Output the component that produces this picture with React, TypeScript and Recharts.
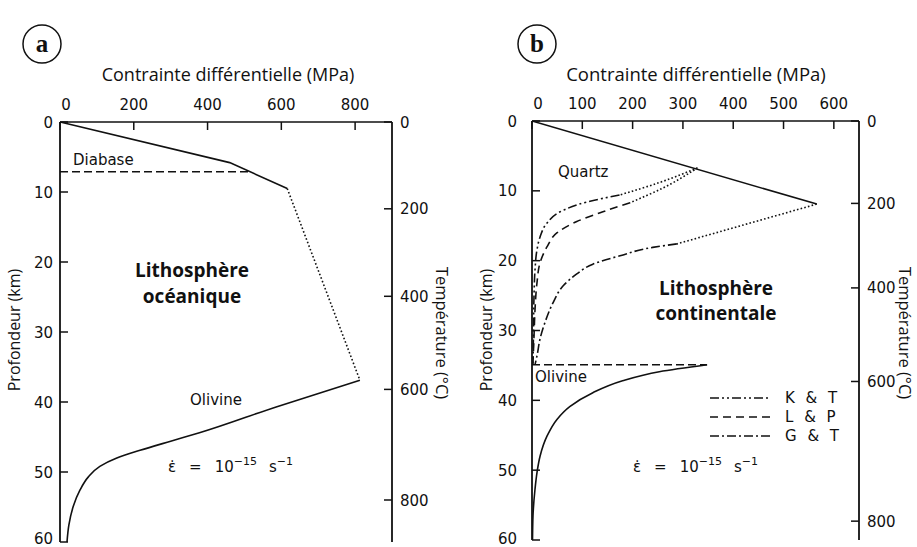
import { ComposedChart, Line, XAxis, YAxis } from "recharts";

// depth axis (km) shared by both panels
const depthTicks = [0, 10, 20, 30, 40, 50, 60];

// panel a — oceanic lithosphere
const stressTicksA = [0, 200, 400, 600, 800];
const tempLabelsA = [0, 200, 400, 600, 800];
const tempDepthsA = [0, 12.4, 24.9, 38.2, 54.0];
const brittleA = [
  { x: 0, y: 0 },
  { x: 460, y: 5.8 },
  { x: 616, y: 9.5 },
];
const diabaseA = [
  { x: 0, y: 7.1 },
  { x: 510, y: 7.1 },
];
const transitionA = [
  { x: 616, y: 9.5 },
  { x: 813, y: 36.9 },
];
const olivineA = [
  { x: 813, y: 36.9 },
  { x: 586, y: 40.7 },
  { x: 378, y: 44.4 },
  { x: 300, y: 45.6 },
  { x: 217, y: 46.9 },
  { x: 154, y: 48.0 },
  { x: 108, y: 49.2 },
  { x: 77, y: 50.7 },
  { x: 54, y: 52.6 },
  { x: 36, y: 54.9 },
  { x: 24, y: 57.6 },
  { x: 19, y: 60 },
];

// panel b — continental lithosphere
const stressTicksB = [0, 100, 200, 300, 400, 500, 600];
const tempLabelsB = [0, 200, 400, 600, 800];
const tempDepthsB = [0, 11.8, 23.9, 37.3, 57.3];
const brittleB = [
  { x: 0, y: 0 },
  { x: 566, y: 11.9 },
];
const olivineTopB = [
  { x: 0, y: 34.9 },
  { x: 348, y: 34.9 },
];
const olivineB = [
  { x: 348, y: 34.9 },
  { x: 253, y: 35.9 },
  { x: 180, y: 37.2 },
  { x: 121, y: 38.9 },
  { x: 75, y: 40.9 },
  { x: 50, y: 42.7 },
  { x: 30, y: 45.1 },
  { x: 16, y: 48 },
  { x: 10, y: 50.3 },
  { x: 6, y: 52.7 },
  { x: 2, y: 56.5 },
  { x: 1, y: 60 },
];
const ktDotted = [
  { x: 329, y: 6.7 },
  { x: 254, y: 8.8 },
  { x: 174, y: 10.6 },
];
const ktCurve = [
  { x: 174, y: 10.6 },
  { x: 109, y: 11.6 },
  { x: 56, y: 13.0 },
  { x: 30, y: 14.6 },
  { x: 16, y: 16.6 },
  { x: 10, y: 18.4 },
  { x: 6, y: 21.3 },
  { x: 4, y: 25 },
  { x: 3, y: 30 },
  { x: 2, y: 34.9 },
];
const lpDotted = [
  { x: 323, y: 7.0 },
  { x: 260, y: 9.6 },
  { x: 195, y: 11.7 },
];
const lpCurve = [
  { x: 195, y: 11.7 },
  { x: 141, y: 13.0 },
  { x: 89, y: 14.4 },
  { x: 50, y: 16.0 },
  { x: 30, y: 18.0 },
  { x: 16, y: 20.3 },
  { x: 10, y: 23.1 },
  { x: 6, y: 27 },
  { x: 4, y: 30.8 },
  { x: 2, y: 34.6 },
];
const gtDotted = [
  { x: 566, y: 11.9 },
  { x: 288, y: 17.6 },
];
const gtCurve = [
  { x: 288, y: 17.6 },
  { x: 240, y: 18.1 },
  { x: 175, y: 19.3 },
  { x: 121, y: 20.5 },
  { x: 89, y: 21.9 },
  { x: 62, y: 23.6 },
  { x: 42, y: 26 },
  { x: 26, y: 28.8 },
  { x: 16, y: 31.2 },
  { x: 10, y: 33.6 },
  { x: 6, y: 34.9 },
];

const INK = "#111";
const DOT = "1.6 2.2";
const DASH = "8 4";
const DASH_KT = "9 3 2 3 2 3";
const DASH_LP = "8 5";
const DASH_GT = "9 3 2 3";

const legendB = [
  { label: "K & T", dash: DASH_KT },
  { label: "L & P", dash: DASH_LP },
  { label: "G & T", dash: DASH_GT },
];

type Pt = { x: number; y: number };
type Series = { data: Pt[]; dash?: string; curve: "linear" | "monotoneY" };

const tickFont = { fontFamily: "DejaVu Sans", fontSize: 15, fill: INK };
const titleFont = "'Open Sans'";
const TICK = 8;

// tick marks are drawn outward by recharts, then shifted so they point into the plot
const inward = (dx: number, dy: number) => ({
  stroke: INK,
  strokeWidth: 1.5,
  transform: `translate(${dx},${dy})`,
});

function Panel(props: {
  left: number;
  width: number;
  margin: { top: number; right: number; bottom: number; left: number };
  leftWidth: number;
  rightWidth: number;
  leftGap: number;
  xDomain: [number, number];
  xTicks: number[];
  tempDepths: number[];
  tempLabels: number[];
  series: Series[];
}) {
  const { tempDepths, tempLabels, leftGap } = props;
  return (
    <div style={{ position: "absolute", left: props.left, top: 0 }}>
      <ComposedChart width={props.width} height={547} margin={props.margin}>
        <XAxis
          xAxisId="top"
          orientation="top"
          type="number"
          dataKey="x"
          domain={props.xDomain}
          ticks={props.xTicks}
          allowDataOverflow
          height={30}
          stroke={INK}
          strokeWidth={1.6}
          tickLine={inward(0, TICK)}
          tickSize={TICK}
          tickMargin={12 - TICK}
          tick={(p: any) => (
            <text
              x={Number(p.x) + (p.payload.value === 0 ? 6 : 0)}
              y={p.y}
              textAnchor="middle"
              {...tickFont}
            >
              {p.payload.value}
            </text>
          )}
        />
        <XAxis
          xAxisId="bot"
          orientation="bottom"
          type="number"
          dataKey="x"
          domain={props.xDomain}
          ticks={props.xTicks}
          allowDataOverflow
          height={0}
          stroke={INK}
          strokeWidth={1.6}
          tickLine={inward(0, -TICK)}
          tickSize={TICK}
          tick={false}
        />
        <YAxis
          yAxisId="depth"
          type="number"
          domain={[0, 60]}
          reversed
          allowDataOverflow
          ticks={depthTicks}
          width={props.leftWidth}
          stroke={INK}
          strokeWidth={1.8}
          tickLine={inward(TICK, 0)}
          tickSize={TICK}
          tickMargin={leftGap - TICK}
          tick={(p: any) => (
            <text x={p.x} y={p.y} dy={5.5} textAnchor="end" {...tickFont}>
              {p.payload.value}
            </text>
          )}
        />
        <YAxis
          yAxisId="temp"
          orientation="right"
          type="number"
          domain={[0, 60]}
          reversed
          allowDataOverflow
          ticks={tempDepths}
          width={props.rightWidth}
          stroke={INK}
          strokeWidth={1.8}
          tickLine={inward(-TICK, 0)}
          tickSize={TICK}
          tickMargin={0}
          tick={(p: any) => (
            <text x={p.x} y={p.y} dy={5.5} textAnchor="start" {...tickFont}>
              {tempLabels[tempDepths.indexOf(p.payload.value)]}
            </text>
          )}
        />
        {props.series.map((s, i) => (
          <Line
            key={i}
            xAxisId="top"
            yAxisId="depth"
            data={s.data}
            dataKey="y"
            type={s.curve}
            stroke={INK}
            strokeWidth={1.6}
            strokeDasharray={s.dash}
            dot={false}
            activeDot={false}
            isAnimationActive={false}
          />
        ))}
      </ComposedChart>
    </div>
  );
}

function Circled({ cx, cy, letter }: { cx: number; cy: number; letter: string }) {
  return (
    <g>
      <circle cx={cx} cy={cy} r={19} fill="none" stroke={INK} strokeWidth={1.5} />
      <text
        x={cx}
        y={cy + 8}
        textAnchor="middle"
        fontFamily="'Liberation Serif'"
        fontWeight="bold"
        fontSize={25}
        fill={INK}
      >
        {letter}
      </text>
    </g>
  );
}

function StrainRate({ x, y }: { x: number; y: number }) {
  return (
    <text x={x} y={y} fontFamily="DejaVu Sans" fontSize={15} fill={INK}>
      ε̇
      <tspan dx={13}>=</tspan>
      <tspan dx={13}>10</tspan>
      <tspan dy={-7} fontSize={11}>
        −15
      </tspan>
      <tspan dy={7} dx={12}>
        s
      </tspan>
      <tspan dy={-7} fontSize={11}>
        −1
      </tspan>
    </text>
  );
}

export default function App() {
  const seriesA: Series[] = [
    { data: brittleA, curve: "linear" },
    { data: diabaseA, curve: "linear", dash: DASH },
    { data: transitionA, curve: "linear", dash: DOT },
    { data: olivineA, curve: "monotoneY" },
  ];
  const seriesB: Series[] = [
    { data: brittleB, curve: "linear" },
    { data: ktDotted, curve: "monotoneY", dash: DOT },
    { data: ktCurve, curve: "monotoneY", dash: DASH_KT },
    { data: lpDotted, curve: "monotoneY", dash: DOT },
    { data: lpCurve, curve: "monotoneY", dash: DASH_LP },
    { data: gtDotted, curve: "linear", dash: DOT },
    { data: gtCurve, curve: "monotoneY", dash: DASH_GT },
    { data: olivineTopB, curve: "linear", dash: DASH },
    { data: olivineB, curve: "monotoneY" },
  ];

  return (
    <div style={{ position: "relative", width: 917, height: 547, background: "#fff", overflow: "hidden" }}>
      <style>{"body{margin:0}"}</style>
      <Panel
        left={0}
        width={460}
        margin={{ top: 92, right: 8, bottom: 5, left: 0 }}
        leftWidth={60}
        rightWidth={60}
        leftGap={7}
        xDomain={[0, 900]}
        xTicks={stressTicksA}
        tempDepths={tempDepthsA}
        tempLabels={tempLabelsA}
        series={seriesA}
      />
      <Panel
        left={460}
        width={457}
        margin={{ top: 91, right: 0, bottom: 7, left: 12 }}
        leftWidth={60}
        rightWidth={58}
        leftGap={15}
        xDomain={[0, 650]}
        xTicks={stressTicksB}
        tempDepths={tempDepthsB}
        tempLabels={tempLabelsB}
        series={seriesB}
      />
      <svg
        width={917}
        height={547}
        style={{ position: "absolute", left: 0, top: 0, pointerEvents: "none" }}
      >
        <Circled cx={42} cy={44} letter="a" />
        <Circled cx={537} cy={44} letter="b" />

        <text x={228} y={81} textAnchor="middle" fontFamily={titleFont} fontSize={18} fill={INK}>
          Contrainte différentielle (MPa)
        </text>
        <text x={696} y={81} textAnchor="middle" fontFamily={titleFont} fontSize={18.5} fill={INK}>
          Contrainte différentielle (MPa)
        </text>

        <text transform="translate(20,330) rotate(-90)" textAnchor="middle" fontFamily={titleFont} fontSize={16} fill={INK}>
          Profondeur (km)
        </text>
        <text transform="translate(492,330) rotate(-90)" textAnchor="middle" fontFamily={titleFont} fontSize={16} fill={INK}>
          Profondeur (km)
        </text>
        <text transform="translate(436,333) rotate(90)" textAnchor="middle" fontFamily={titleFont} fontSize={16.5} fill={INK}>
          Température (°C)
        </text>
        <text transform="translate(899,333) rotate(90)" textAnchor="middle" fontFamily={titleFont} fontSize={16.5} fill={INK}>
          Température (°C)
        </text>

        <text x={73} y={165} fontFamily="DejaVu Sans" fontSize={15} fill={INK}>
          Diabase
        </text>
        <text x={190} y={405} fontFamily="DejaVu Sans" fontSize={15} fill={INK}>
          Olivine
        </text>
        <text x={558} y={177} fontFamily="DejaVu Sans" fontSize={15} fill={INK}>
          Quartz
        </text>
        <text x={535} y={382} fontFamily="DejaVu Sans" fontSize={15} fill={INK}>
          Olivine
        </text>

        <text x={192} y={277} textAnchor="middle" fontFamily={titleFont} fontWeight="bold" fontSize={19} fill={INK}>
          Lithosphère
        </text>
        <text x={192} y={303} textAnchor="middle" fontFamily={titleFont} fontWeight="bold" fontSize={19} fill={INK}>
          océanique
        </text>
        <text x={716} y={295} textAnchor="middle" fontFamily={titleFont} fontWeight="bold" fontSize={19} fill={INK}>
          Lithosphère
        </text>
        <text x={716} y={320} textAnchor="middle" fontFamily={titleFont} fontWeight="bold" fontSize={19} fill={INK}>
          continentale
        </text>

        <StrainRate x={168} y={472} />
        <StrainRate x={633} y={472} />

        {legendB.map((item, i) => (
          <g key={item.label}>
            <line x1={710} x2={770} y1={398 + i * 19} y2={398 + i * 19} stroke={INK} strokeWidth={1.5} strokeDasharray={item.dash} />
            <text x={785} y={403 + i * 19} fontFamily="DejaVu Sans" fontSize={15} letterSpacing={3} fill={INK}>
              {item.label}
            </text>
          </g>
        ))}
      </svg>
    </div>
  );
}
